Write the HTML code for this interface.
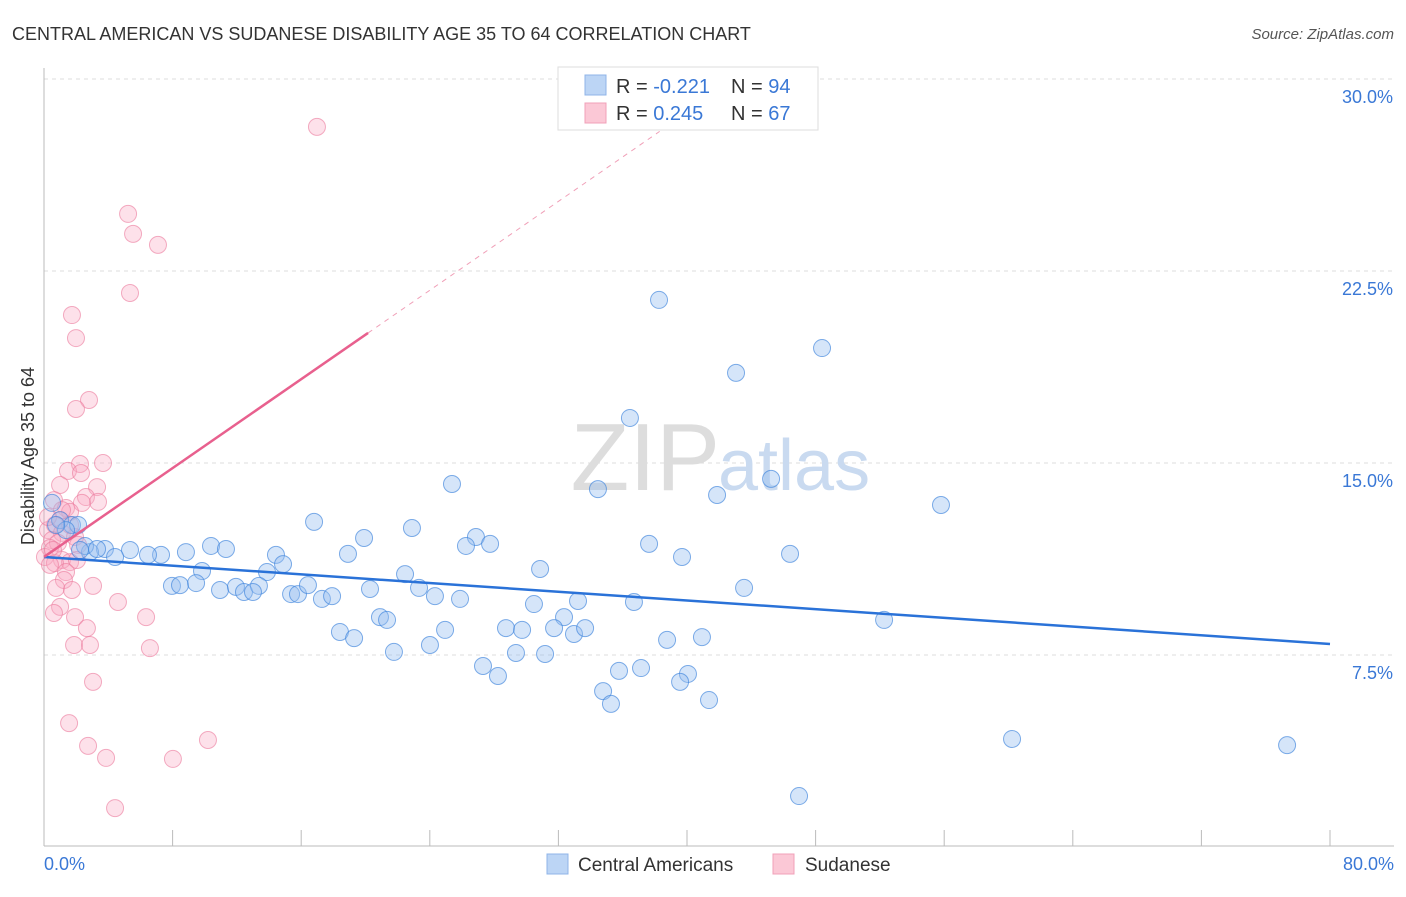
<!DOCTYPE html>
<html><head><meta charset="utf-8"><style>
body{margin:0;background:#fff;font-family:"Liberation Sans",sans-serif;}
svg text{font-family:"Liberation Sans",sans-serif;}
</style></head><body>
<svg id="chart" width="1406" height="892" viewBox="0 0 1406 892" xmlns="http://www.w3.org/2000/svg">
<text x="12" y="40" font-size="18" fill="#333">CENTRAL AMERICAN VS SUDANESE DISABILITY AGE 35 TO 64 CORRELATION CHART</text>
<text x="1394" y="39" font-size="15" fill="#555" font-style="italic" text-anchor="end">Source: ZipAtlas.com</text>
<g id="grid"></g>
<text x="720" y="490" font-size="96" fill="#ddd" text-anchor="end" font-family="Liberation Serif">ZIP</text>
<text x="718" y="490" font-size="72" fill="#c9daf0">atlas</text>
<line x1="44" y1="68" x2="44" y2="846" stroke="#bbb"/>
<line x1="44" y1="846" x2="1394" y2="846" stroke="#bbb"/>
<g id="xticks"></g>
<text x="34" y="456" font-size="18" fill="#333" text-anchor="middle" transform="rotate(-90 34 456)">Disability Age 35 to 64</text>
<text x="44" y="870" font-size="18" fill="#3a78d6">0.0%</text>
<text x="1394" y="870" font-size="18" fill="#3a78d6" text-anchor="end">80.0%</text>
<g id="pts"></g>
<g id="lines"></g>
<g>
<rect x="558" y="67" width="260" height="63" fill="#fff" stroke="#ddd"/>
<rect x="585" y="75" width="21" height="20" fill="#bcd5f5" stroke="#8fb4e8"/>
<rect x="585" y="103" width="21" height="20" fill="#fbc8d6" stroke="#f0a0b8"/>
<text x="616" y="93" font-size="20" fill="#333">R = <tspan fill="#3a78d6">-0.221</tspan></text>
<text x="731" y="93" font-size="20" fill="#333">N = <tspan fill="#3a78d6">94</tspan></text>
<text x="616" y="120" font-size="20" fill="#333">R = <tspan fill="#3a78d6"> 0.245</tspan></text>
<text x="731" y="120" font-size="20" fill="#333">N = <tspan fill="#3a78d6">67</tspan></text>
</g>
<g>
<rect x="547" y="854" width="21" height="20" fill="#bcd5f5" stroke="#8fb4e8"/>
<text x="578" y="871" font-size="19" fill="#333">Central Americans</text>
<rect x="773" y="854" width="21" height="20" fill="#fbc8d6" stroke="#f0a0b8"/>
<text x="805" y="871" font-size="19" fill="#333">Sudanese</text>
</g>
</svg>
<script>
const yTicks=[7.5,15,22.5,30];
const yTickLabels=["7.5%","15.0%","22.5%","30.0%"];
const xTicks=[0,8,16,24,32,40,48,56,64,72,80];
const blueX=[38.26,48.40,43.05,36.45,45.23,25.38,34.46,41.87,55.80,16.80,22.89,19.91,26.87,27.75,26.25,37.64,46.41,39.69,18.91,10.39,11.32,8.83,7.28,5.35,3.79,2.86,4.42,6.47,14.43,14.87,13.87,9.83,7.96,8.46,9.46,10.95,11.94,12.44,13.37,13.00,15.37,15.80,16.42,17.29,17.92,20.28,22.46,23.33,24.32,25.88,30.86,33.22,36.70,30.48,32.35,43.55,20.90,21.34,18.41,19.29,24.95,28.74,29.74,31.73,32.97,33.66,38.76,40.93,52.26,21.77,24.01,29.36,31.17,27.31,28.24,35.77,37.14,40.06,39.57,34.78,35.27,41.37,60.22,77.33,46.97,0.50,1.00,1.74,2.12,1.37,0.75,2.55,3.30,2.24];
const blueY=[21.37,19.49,18.52,16.76,14.38,14.18,13.98,13.75,13.36,12.70,12.46,12.07,12.11,11.84,11.76,11.84,11.45,11.33,11.45,11.76,11.64,11.52,11.41,11.60,11.64,11.52,11.33,11.41,11.41,11.05,10.74,10.78,10.20,10.23,10.31,10.04,10.16,9.96,10.20,9.96,9.88,9.88,10.23,9.69,9.80,10.08,10.66,10.12,9.80,9.69,10.86,9.61,9.57,9.49,8.98,10.12,8.98,8.87,8.40,8.16,8.48,8.55,8.48,8.55,8.32,8.55,8.09,8.20,8.87,7.62,7.89,7.58,7.54,7.07,6.68,6.88,6.99,6.76,6.45,6.09,5.59,5.74,4.22,3.98,1.99,13.44,12.77,12.58,12.58,12.38,12.58,11.76,11.64,11.60];
const pinkX=[16.98,5.23,5.54,7.09,5.35,1.74,1.99,2.80,1.99,3.67,2.24,1.49,2.30,1.00,3.30,2.61,3.36,2.36,0.62,1.37,1.62,1.00,0.68,0.25,1.12,1.93,0.50,0.87,2.12,0.37,0.06,1.12,1.62,2.05,0.68,0.37,1.37,1.24,3.05,0.75,1.74,4.60,1.00,0.62,1.93,6.35,2.67,1.87,2.86,6.59,3.05,1.56,2.74,10.20,3.86,8.02,4.42,1.12,1.62,0.25,0.56];
const pinkY=[28.13,24.73,23.95,23.52,21.64,20.78,19.88,17.46,17.11,15.00,14.96,14.69,14.61,14.14,14.06,13.67,13.48,13.44,13.55,13.24,13.09,12.77,12.58,12.38,12.27,12.11,11.99,11.88,11.80,11.68,11.33,11.21,11.13,11.21,11.09,11.02,10.74,10.43,10.20,10.12,10.04,9.57,9.38,9.14,8.98,8.98,8.55,7.89,7.89,7.77,6.45,4.84,3.95,4.18,3.48,3.44,1.52,13.16,12.58,12.89,11.60];
const blueTrend=[11.33,7.93];   // y at x=0 and x=80
const pinkTrend=[11.33,20.08];  // y at x=0 and x=20.16
const pinkSolidEnd=20.16, pinkDashEnd=38.3;

const NS="http://www.w3.org/2000/svg";
const sx=v=>44+v/80*1286;
const sy=v=>847-v/7.5*192;
function mk(t,a,p){const e=document.createElementNS(NS,t);for(const k in a)e.setAttribute(k,a[k]);p.appendChild(e);return e;}
const grid=document.getElementById('grid');
yTicks.forEach((t,i)=>{
  const l=mk('line',{x1:44,x2:1394,y1:sy(t),y2:sy(t),stroke:'#ddd','stroke-dasharray':'4,4'},grid);
  
  
  const tx=mk('text',{x:1393,y:sy(t)+24,'font-size':18,fill:'#3a78d6','text-anchor':'end'},grid);
  tx.textContent=yTickLabels[i];
  
  
});
const xt=document.getElementById('xticks');
xTicks.forEach(t=>{
  const l=mk('line',{x1:sx(t),x2:sx(t),y1:830,y2:846,stroke:'#bbb'},xt);
  
  
});
const pts=document.getElementById('pts');
pinkX.forEach((x,i)=>{
  const c=mk('circle',{cx:sx(x),cy:sy(pinkY[i]),r:8.5,fill:'rgba(248,170,195,0.35)',stroke:'rgba(235,120,155,0.6)','stroke-width':1},pts);
  
  
});
blueX.forEach((x,i)=>{
  const c=mk('circle',{cx:sx(x),cy:sy(blueY[i]),r:8.5,fill:'rgba(150,190,240,0.4)',stroke:'rgba(60,130,220,0.65)','stroke-width':1},pts);
  
  
});
const lines=document.getElementById('lines');
const bl=mk('line',{x1:sx(0),y1:sy(blueTrend[0]),x2:sx(80),y2:sy(blueTrend[1]),stroke:'#2a72d8','stroke-width':2.5},lines);


const slope=(pinkTrend[1]-pinkTrend[0])/pinkSolidEnd;
const pl=mk('line',{x1:sx(0),y1:sy(pinkTrend[0]),x2:sx(pinkSolidEnd),y2:sy(pinkTrend[1]),stroke:'#e8608e','stroke-width':2.5},lines);


const pd=mk('line',{x1:sx(pinkSolidEnd),y1:sy(pinkTrend[1]),x2:sx(pinkDashEnd),y2:sy(pinkTrend[0]+slope*pinkDashEnd),stroke:'#f0a0b8','stroke-width':1,'stroke-dasharray':'5,5'},lines);


</script>
</body></html>
